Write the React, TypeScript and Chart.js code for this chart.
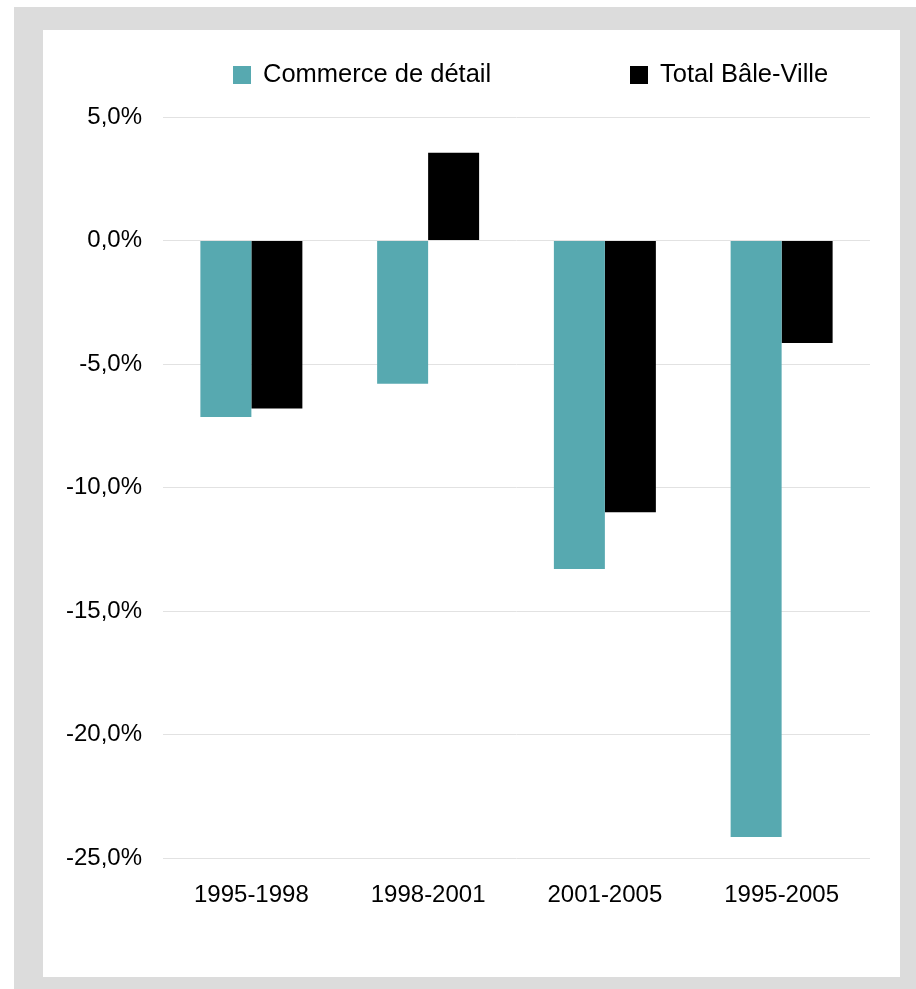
import React, { useEffect, useRef } from "react";
import { Chart, registerables } from "chart.js";

Chart.register(...registerables);

const categories = ["1995-1998", "1998-2001", "2001-2005", "1995-2005"];
const seriesNames = ["Commerce de détail", "Total Bâle-Ville"];
const commerceValues = [-7.15, -5.8, -13.3, -24.15];
const totalValues = [-6.8, 3.55, -11.0, -4.15];
const yTicks = [5, 0, -5, -10, -15, -20, -25];
const colors = ["#57a9b0", "#000000"];

const FONT = "'Liberation Sans', Arial, sans-serif";

export default function App() {
  const ref = useRef<HTMLCanvasElement | null>(null);

  useEffect(() => {
    if (!ref.current) return;
    const chart = new Chart(ref.current, {
      type: "bar",
      data: {
        labels: categories,
        datasets: [
          {
            label: seriesNames[0],
            data: commerceValues,
            backgroundColor: colors[0],
            borderWidth: 0,
            categoryPercentage: 0.577,
            barPercentage: 1,
          },
          {
            label: seriesNames[1],
            data: totalValues,
            backgroundColor: colors[1],
            borderWidth: 0,
            categoryPercentage: 0.577,
            barPercentage: 1,
          },
        ],
      },
      options: {
        animation: false,
        responsive: false,
        maintainAspectRatio: false,
        layout: { padding: { top: 87, right: 30, bottom: 0, left: 0 } },
        plugins: {
          legend: { display: false },
          tooltip: { enabled: false },
        },
        scales: {
          x: {
            grid: { display: false, drawTicks: false },
            border: { display: false },
            ticks: {
              color: "#000",
              padding: 23,
              font: { family: FONT, size: 24 },
            },
            afterFit: (s: any) => {
              s.height = 119;
            },
          },
          y: {
            min: Math.min(...yTicks),
            max: Math.max(...yTicks),
            afterBuildTicks: (s: any) => {
              s.ticks = yTicks.map((v) => ({ value: v }));
            },
            grid: { color: "#e2e2e2", lineWidth: 1, drawTicks: false },
            border: { display: false },
            ticks: {
              color: "#000",
              padding: 21,
              font: { family: FONT, size: 24 },
              callback: (v: any) => Number(v).toFixed(1).replace(".", ",") + "%",
            },
            afterFit: (s: any) => {
              s.width = 120;
            },
          },
        },
      },
    });
    return () => chart.destroy();
  }, []);

  const legendItem = (name: string, color: string, left: number) => (
    <div
      style={{
        position: "absolute",
        left,
        top: 28,
        display: "flex",
        alignItems: "center",
        height: 30,
        whiteSpace: "nowrap",
      }}
    >
      <span style={{ display: "inline-block", width: 18, height: 18, background: color, marginRight: 12, marginTop: 4 }} />
      <span style={{ fontFamily: FONT, fontSize: 25.5, color: "#000" }}>{name}</span>
    </div>
  );

  return (
    <div
      style={{
        position: "absolute",
        left: 14,
        top: 7,
        width: 902,
        height: 982,
        background: "#dcdcdc",
      }}
    >
      <div
        style={{
          position: "absolute",
          left: 29,
          top: 23,
          width: 857,
          height: 947,
          background: "#ffffff",
        }}
      >
        <canvas ref={ref} width={857} height={947} style={{ display: "block" }} />
        {legendItem(seriesNames[0], colors[0], 190)}
        {legendItem(seriesNames[1], colors[1], 587)}
      </div>
    </div>
  );
}
